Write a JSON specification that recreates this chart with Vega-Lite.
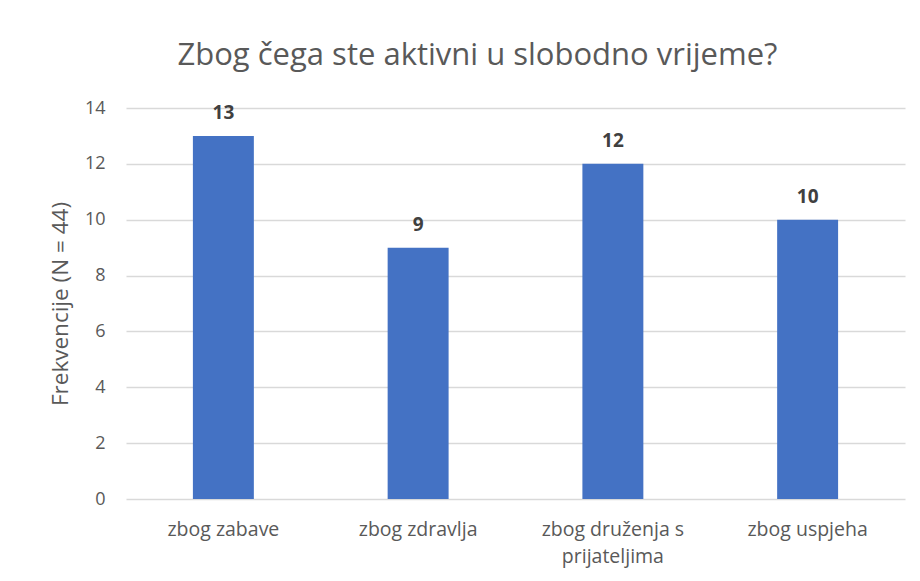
{
  "$schema": "https://vega.github.io/schema/vega-lite/v6.json",
  "autosize": "none",
  "width": 779,
  "height": 391,
  "padding": {"left": 126, "top": 108, "right": 15, "bottom": 82},
  "background": "white",
  "title": {
    "text": "Zbog čega ste aktivni u slobodno vrijeme?",
    "font": "Open Sans",
    "fontSize": 31,
    "fontWeight": "normal",
    "color": "#595959",
    "anchor": "middle",
    "dx": -38,
    "offset": 27
  },
  "data": {
    "values": [
      {"razlog": "zbog zabave", "frekvencija": 13},
      {"razlog": "zbog zdravlja", "frekvencija": 9},
      {"razlog": "zbog druženja s prijateljima", "frekvencija": 12},
      {"razlog": "zbog uspjeha", "frekvencija": 10}
    ]
  },
  "encoding": {
    "x": {
      "field": "razlog",
      "type": "nominal",
      "sort": null,
      "scale": {"paddingInner": 0.687, "paddingOuter": 0.3435},
      "axis": {
        "title": null,
        "labelAngle": 0,
        "labelFont": "Open Sans",
        "labelFontSize": 19.5,
        "labelColor": "#595959",
        "labelPadding": 21,
        "labelLineHeight": 27,
        "labelExpr": "datum.label == 'zbog druženja s prijateljima' ? ['zbog druženja s', 'prijateljima'] : datum.label",
        "ticks": false,
        "domain": false,
        "grid": false
      }
    },
    "y": {
      "field": "frekvencija",
      "type": "quantitative",
      "scale": {"domain": [0, 14]},
      "axis": {
        "title": "Frekvencije (N = 44)",
        "titleFont": "Open Sans",
        "titleFontSize": 22.5,
        "titleFontWeight": "normal",
        "titleColor": "#595959",
        "titlePadding": 12,
        "values": [0, 2, 4, 6, 8, 10, 12, 14],
        "labelFont": "Open Sans",
        "labelFontSize": 18,
        "labelColor": "#595959",
        "labelPadding": 21,
        "ticks": false,
        "domain": false,
        "grid": true,
        "gridColor": "#d9d9d9",
        "gridWidth": 1.3
      }
    }
  },
  "layer": [
    {"mark": {"type": "bar", "color": "#4472C4"}},
    {
      "mark": {
        "type": "text",
        "baseline": "alphabetic",
        "dy": -17,
        "font": "Open Sans",
        "fontSize": 19,
        "fontWeight": "bold",
        "color": "#404040"
      },
      "encoding": {"text": {"field": "frekvencija", "type": "quantitative"}}
    }
  ],
  "config": {"view": {"stroke": null}}
}
